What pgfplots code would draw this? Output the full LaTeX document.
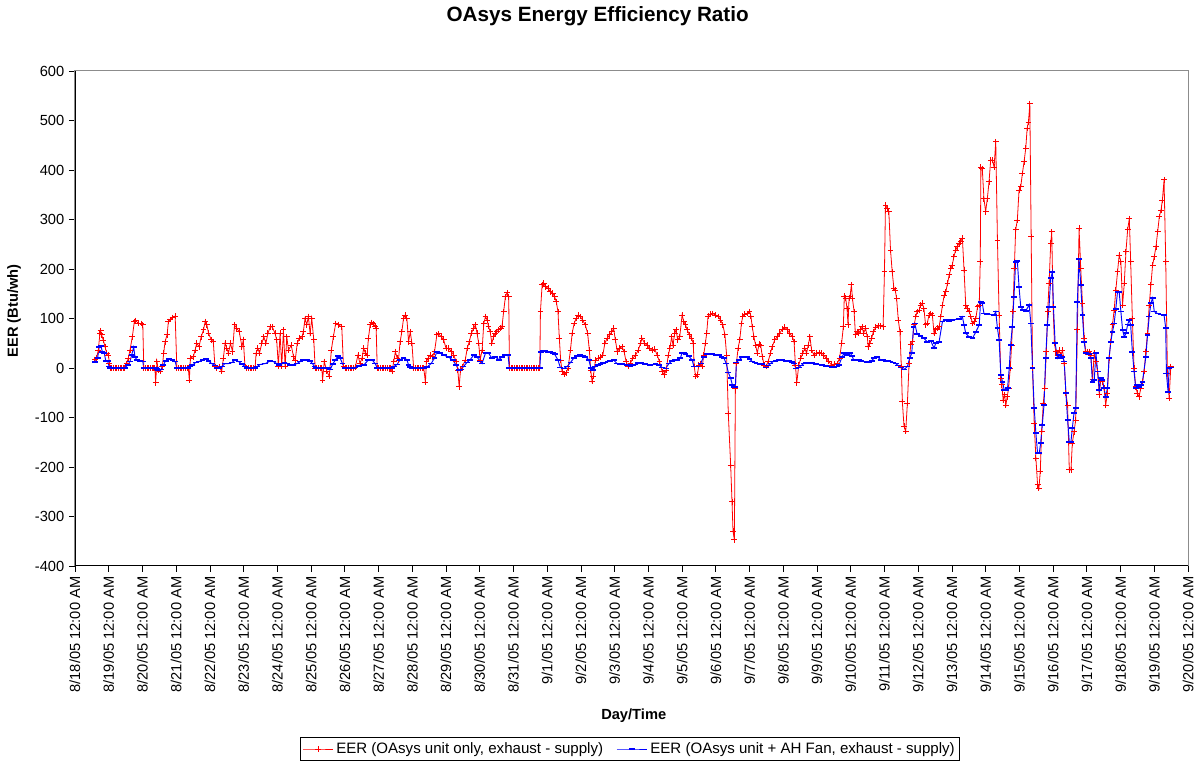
\documentclass[border=0pt]{standalone}
\usepackage{fontspec}
\setmainfont{Liberation Sans}
\usepackage{pgfplots}
\pgfplotsset{compat=1.18}
\usepackage{pgfplotstable}

\pgfplotstableread{
d v
0.59 17
0.64 20
0.69 36
0.74 70
0.76 75
0.79 67
0.84 56
0.89 43
0.94 30
0.99 26
1.02 10
1.04 0
1.09 0
1.14 0
1.19 0
1.24 0
1.29 0
1.34 0
1.39 0
1.44 0
1.48 0
1.53 9
1.58 20
1.63 36
1.70 63
1.76 94
1.80 96
1.88 90
1.96 90
2.01 87
2.04 0
2.09 0
2.14 0
2.19 0
2.24 0
2.29 0
2.34 0
2.37 0
2.39 -30
2.43 13
2.47 -4
2.53 -7
2.59 3
2.63 30
2.67 53
2.73 67
2.77 94
2.82 98
2.89 102
2.97 105
3.02 0
3.07 0
3.12 0
3.17 0
3.22 0
3.27 0
3.32 0
3.36 0
3.39 -25
3.42 20
3.51 23
3.56 36
3.61 50
3.68 43
3.74 63
3.81 77
3.86 94
3.91 87
3.96 70
4.04 57
4.10 53
4.15 3
4.20 0
4.27 3
4.35 -7
4.40 20
4.45 50
4.50 40
4.55 30
4.61 50
4.67 33
4.73 87
4.80 80
4.87 73
4.95 43
4.99 57
5.04 3
5.09 0
5.14 0
5.19 0
5.24 0
5.29 0
5.34 0
5.37 30
5.42 40
5.47 30
5.54 50
5.60 63
5.66 50
5.72 70
5.79 83
5.85 83
5.93 70
5.98 57
6.03 3
6.08 70
6.13 3
6.18 77
6.23 3
6.28 63
6.33 36
6.41 46
6.48 23
6.53 16
6.59 50
6.65 60
6.73 63
6.77 73
6.82 100
6.87 87
6.92 104
6.97 70
7.02 100
7.08 57
7.12 0
7.17 0
7.22 0
7.27 0
7.32 0
7.34 -25
7.39 13
7.47 -7
7.54 -17
7.60 36
7.66 63
7.73 90
7.81 87
7.91 83
7.96 3
8.01 0
8.06 0
8.11 0
8.16 0
8.21 0
8.26 0
8.31 2
8.39 26
8.45 9
8.51 20
8.56 40
8.61 30
8.66 26
8.70 60
8.75 87
8.80 92
8.85 89
8.90 84
8.93 80
8.96 0
9.01 0
9.06 0
9.11 0
9.16 0
9.21 0
9.26 0
9.31 0
9.36 0
9.40 -7
9.45 13
9.50 33
9.55 20
9.59 16
9.64 53
9.69 73
9.74 100
9.79 107
9.84 100
9.89 53
9.94 73
9.99 50
10.04 0
10.09 0
10.14 0
10.19 0
10.24 0
10.29 0
10.34 0
10.39 -29
10.42 13
10.47 20
10.53 26
10.60 23
10.66 33
10.73 67
10.78 69
10.86 63
10.93 57
11.00 40
11.08 40
11.16 33
11.23 26
11.30 13
11.35 -4
11.39 -38
11.43 -4
11.49 3
11.57 16
11.63 40
11.69 53
11.75 70
11.82 80
11.87 87
11.92 70
11.97 50
12.01 16
12.07 36
12.12 90
12.17 104
12.22 97
12.26 84
12.31 73
12.36 50
12.41 63
12.46 70
12.51 73
12.56 77
12.62 80
12.66 84
12.71 114
12.76 144
12.81 152
12.86 144
12.88 0
12.93 0
12.98 0
13.03 0
13.08 0
13.13 0
13.18 0
13.23 0
13.28 0
13.33 0
13.38 0
13.43 0
13.48 0
13.53 0
13.58 0
13.63 0
13.68 0
13.73 0
13.78 0
13.80 114
13.85 168
13.90 171
13.95 164
14.03 161
14.09 154
14.16 151
14.22 144
14.27 134
14.32 114
14.36 60
14.40 16
14.44 -7
14.50 -13
14.56 -10
14.62 0
14.69 36
14.74 70
14.80 90
14.86 100
14.92 107
14.98 104
15.05 97
15.13 87
15.20 70
15.25 36
15.29 -4
15.33 -27
15.37 -17
15.43 16
15.51 20
15.58 22
15.65 26
15.71 50
15.78 60
15.85 67
15.92 73
15.97 80
16.02 57
16.08 33
16.14 40
16.22 43
16.28 33
16.34 13
16.40 3
16.47 10
16.54 20
16.62 26
16.70 36
16.77 50
16.81 60
16.89 50
16.96 46
17.03 40
17.11 36
17.19 38
17.26 26
17.33 13
17.41 -7
17.47 -14
17.53 -4
17.59 26
17.64 40
17.69 63
17.73 46
17.78 70
17.82 77
17.87 57
17.93 63
18.00 107
18.05 94
18.10 87
18.15 77
18.22 67
18.28 60
18.33 50
18.36 3
18.40 -17
18.45 -14
18.50 6
18.55 9
18.60 3
18.64 26
18.69 50
18.73 70
18.77 105
18.84 109
18.91 110
18.99 107
19.07 104
19.14 97
19.21 87
19.27 67
19.32 26
19.37 -92
19.44 -196
19.48 -270
19.51 -330
19.55 -347
19.58 -41
19.61 9
19.66 40
19.71 57
19.76 90
19.80 105
19.86 109
19.93 110
20.00 114
20.04 105
20.08 83
20.13 63
20.18 46
20.23 30
20.28 48
20.33 46
20.38 23
20.43 6
20.49 3
20.55 13
20.62 30
20.67 43
20.75 57
20.82 63
20.89 70
20.97 78
21.05 82
21.12 77
21.19 70
21.27 63
21.32 53
21.36 6
21.40 -30
21.46 6
21.52 20
21.58 30
21.64 40
21.69 30
21.74 46
21.79 63
21.84 36
21.91 26
21.98 30
22.06 31
22.14 30
22.20 26
22.27 20
22.35 13
22.43 6
22.51 8
22.60 9
22.67 20
22.73 50
22.78 83
22.81 145
22.85 141
22.89 120
22.92 87
22.95 141
22.98 145
23.02 168
23.05 141
23.10 114
23.14 67
23.19 73
23.24 70
23.29 77
23.34 83
23.38 70
23.44 80
23.49 63
23.52 43
23.57 50
23.62 60
23.67 73
23.74 82
23.82 85
23.89 85
23.96 83
24.00 194
24.03 329
24.08 323
24.13 316
24.18 238
24.23 194
24.28 161
24.32 157
24.36 141
24.41 97
24.46 73
24.50 3
24.53 -68
24.58 -118
24.63 -128
24.68 -71
24.73 9
24.78 48
24.83 53
24.88 87
24.93 104
24.97 114
25.03 117
25.07 127
25.12 131
25.17 120
25.22 87
25.27 90
25.32 107
25.37 110
25.42 107
25.47 70
25.52 77
25.57 80
25.62 83
25.67 104
25.72 127
25.77 147
25.82 154
25.87 171
25.92 188
25.97 201
26.01 208
26.06 225
26.11 238
26.16 245
26.21 252
26.26 255
26.31 262
26.36 198
26.41 127
26.46 120
26.51 114
26.56 104
26.61 90
26.66 93
26.71 100
26.76 124
26.81 127
26.84 215
26.86 406
26.90 403
26.95 342
27.00 316
27.05 342
27.10 376
27.15 420
27.20 420
27.25 406
27.30 457
27.35 258
27.40 107
27.45 -21
27.48 -34
27.52 -65
27.56 -54
27.60 -75
27.64 -58
27.68 -41
27.73 0
27.77 46
27.81 114
27.85 201
27.89 279
27.94 299
27.99 359
28.04 366
28.09 393
28.14 417
28.19 444
28.23 484
28.27 497
28.31 534
28.35 265
28.39 0
28.44 -112
28.49 -182
28.54 -236
28.58 -243
28.62 -209
28.66 -129
28.71 -71
28.75 -41
28.80 33
28.84 114
28.88 171
28.93 252
28.96 275
29.00 124
29.04 50
29.08 33
29.13 26
29.18 36
29.23 26
29.28 36
29.33 9
29.38 -51
29.43 -75
29.48 -206
29.53 -206
29.57 -152
29.62 -129
29.67 -105
29.72 77
29.77 282
29.82 201
29.87 131
29.92 60
29.97 33
30.02 33
30.07 33
30.12 26
30.17 -24
30.22 30
30.27 13
30.32 -7
30.37 -54
30.41 -24
30.46 -28
30.51 -41
30.56 -75
30.61 -51
30.66 20
30.71 53
30.76 87
30.81 117
30.86 157
30.91 194
30.96 228
31.01 215
31.06 127
31.11 171
31.16 235
31.21 279
31.26 302
31.30 215
31.35 100
31.40 0
31.45 -38
31.50 -51
31.55 -58
31.60 -41
31.65 -28
31.70 -7
31.75 33
31.80 70
31.85 127
31.90 168
31.95 208
32.00 225
32.05 245
32.10 275
32.15 306
32.20 319
32.24 339
32.29 380
32.34 215
32.39 -11
32.44 -61
32.49 3
}\redtab

\pgfplotstableread{
d v
0.59 12
0.67 20
0.72 43
0.77 44
0.81 33
0.87 30
0.91 15
0.97 14
1.01 3
1.04 0
1.09 0
1.14 0
1.19 0
1.24 0
1.29 0
1.34 0
1.39 0
1.44 0
1.48 0
1.56 6
1.63 13
1.68 26
1.74 42
1.78 22
1.83 17
1.93 15
2.01 13
2.04 0
2.09 0
2.14 0
2.19 0
2.24 0
2.29 0
2.34 0
2.39 0
2.43 -2
2.47 -4
2.55 -3
2.62 6
2.69 15
2.79 18
2.89 17
2.97 13
3.02 0
3.07 0
3.12 0
3.17 0
3.22 0
3.27 0
3.32 0
3.36 0
3.42 3
3.48 6
3.58 11
3.68 13
3.78 16
3.88 18
3.96 14
4.05 9
4.15 5
4.20 0
4.27 0
4.35 3
4.45 9
4.55 9
4.65 11
4.75 16
4.85 13
4.95 8
5.04 3
5.09 0
5.14 0
5.19 0
5.24 0
5.29 0
5.34 0
5.40 3
5.49 7
5.64 9
5.79 14
5.88 13
5.98 9
6.05 6
6.13 9
6.21 11
6.29 9
6.38 6
6.48 6
6.58 9
6.68 13
6.77 17
6.87 16
6.97 14
7.04 9
7.10 3
7.14 0
7.19 0
7.24 0
7.29 0
7.34 0
7.39 0
7.44 0
7.50 0
7.57 -3
7.64 8
7.72 16
7.79 24
7.86 20
7.93 9
7.99 0
8.04 0
8.09 0
8.14 0
8.19 0
8.24 0
8.31 1
8.41 4
8.56 6
8.70 16
8.80 17
8.90 9
8.96 0
9.01 0
9.06 0
9.11 0
9.16 0
9.21 0
9.26 0
9.31 0
9.36 0
9.40 0
9.45 3
9.55 7
9.64 17
9.74 20
9.84 17
9.89 6
9.94 2
9.99 0
10.04 0
10.09 0
10.14 0
10.19 0
10.24 0
10.29 0
10.34 0
10.44 2
10.56 9
10.66 20
10.73 33
10.83 31
10.93 26
11.08 22
11.20 16
11.30 6
11.38 -4
11.45 -3
11.52 3
11.62 11
11.72 17
11.82 26
11.92 22
12.02 13
12.07 9
12.17 30
12.26 30
12.36 20
12.46 23
12.56 17
12.66 22
12.76 26
12.84 26
12.88 0
12.93 0
12.98 0
13.03 0
13.08 0
13.13 0
13.18 0
13.23 0
13.28 0
13.33 0
13.38 0
13.43 0
13.48 0
13.53 0
13.58 0
13.63 0
13.68 0
13.73 0
13.78 0
13.81 33
13.88 34
13.95 34
14.02 33
14.09 33
14.16 30
14.22 28
14.32 16
14.39 1
14.49 -1
14.59 3
14.69 11
14.79 20
14.89 25
14.98 26
15.06 25
15.13 23
15.23 17
15.30 0
15.35 -4
15.43 3
15.50 6
15.58 8
15.66 10
15.73 11
15.80 13
15.87 15
15.97 16
16.07 9
16.15 8
16.22 8
16.30 7
16.37 6
16.47 4
16.55 6
16.62 7
16.70 10
16.77 11
16.84 9
16.91 8
16.98 7
17.06 6
17.13 7
17.21 8
17.31 6
17.41 1
17.51 -1
17.61 9
17.71 15
17.78 16
17.85 17
17.95 20
18.00 31
18.05 30
18.10 28
18.20 24
18.30 16
18.35 3
18.45 3
18.55 9
18.64 23
18.74 28
18.82 28
18.89 28
18.99 27
19.09 26
19.17 23
19.24 20
19.31 9
19.37 -9
19.44 -21
19.49 -34
19.54 -39
19.58 -38
19.61 11
19.68 16
19.78 22
19.85 22
19.93 22
20.00 18
20.08 13
20.15 11
20.23 9
20.30 8
20.38 8
20.49 1
20.55 5
20.62 9
20.70 13
20.77 15
20.87 16
20.97 16
21.07 15
21.17 15
21.25 12
21.31 9
21.38 -1
21.46 1
21.53 5
21.61 9
21.68 10
21.76 11
21.86 10
21.96 8
22.06 7
22.16 6
22.26 4
22.35 3
22.43 2
22.50 1
22.58 3
22.65 6
22.75 23
22.80 30
22.85 28
22.90 26
22.99 30
23.04 24
23.09 16
23.17 16
23.24 16
23.31 14
23.39 13
23.47 12
23.54 11
23.62 15
23.69 20
23.79 23
23.89 16
23.96 16
24.03 15
24.10 14
24.18 13
24.26 11
24.33 9
24.41 5
24.48 1
24.58 -3
24.68 3
24.75 20
24.81 30
24.86 83
24.90 90
24.97 68
25.07 65
25.17 60
25.27 53
25.37 55
25.47 40
25.52 50
25.62 53
25.72 94
25.82 97
25.92 95
26.01 97
26.11 98
26.21 99
26.31 104
26.36 87
26.41 70
26.51 63
26.61 60
26.71 73
26.81 87
26.85 134
26.90 131
26.95 110
27.05 109
27.15 108
27.25 107
27.30 114
27.35 80
27.40 57
27.45 -14
27.50 -28
27.55 -44
27.60 -44
27.65 -41
27.70 0
27.74 46
27.79 83
27.84 144
27.89 215
27.94 216
27.99 164
28.04 124
28.11 117
28.19 115
28.29 128
28.34 90
28.39 0
28.44 -81
28.49 -132
28.54 -172
28.59 -172
28.63 -152
28.68 -115
28.73 -75
28.78 20
28.83 87
28.88 124
28.93 181
28.98 194
29.01 124
29.06 50
29.13 20
29.18 26
29.23 20
29.28 23
29.33 13
29.38 -51
29.43 -105
29.48 -149
29.53 -149
29.57 -122
29.62 -91
29.67 -81
29.72 134
29.77 221
29.82 168
29.87 107
29.92 53
29.97 30
30.07 28
30.12 20
30.17 -28
30.22 -24
30.27 30
30.32 -7
30.37 -44
30.41 -21
30.46 -24
30.51 -41
30.56 -58
30.61 -41
30.66 20
30.71 53
30.76 73
30.81 90
30.86 120
30.91 154
30.96 154
31.01 114
31.06 77
31.11 63
31.16 70
31.21 88
31.26 97
31.30 87
31.35 33
31.40 -7
31.45 -41
31.50 -34
31.55 -38
31.60 -34
31.65 -28
31.75 23
31.80 67
31.85 104
31.90 131
31.95 141
32.00 114
32.10 110
32.20 108
32.29 107
32.34 80
32.36 -11
32.41 -48
32.44 0
32.49 1
}\bluetab

\begin{document}
\begin{tikzpicture}
\begin{axis}[
  name=ax, at={(0,0)}, anchor=south west,
  scale only axis, width=834.75pt, height=371.25pt,
  xmin=0, xmax=33, ymin=-400, ymax=600,
  xtick={0,...,33},
  xticklabels={8/18/05 12:00 AM,8/19/05 12:00 AM,8/20/05 12:00 AM,8/21/05 12:00 AM,8/22/05 12:00 AM,8/23/05 12:00 AM,8/24/05 12:00 AM,8/25/05 12:00 AM,8/26/05 12:00 AM,8/27/05 12:00 AM,8/28/05 12:00 AM,8/29/05 12:00 AM,8/30/05 12:00 AM,8/31/05 12:00 AM,9/1/05 12:00 AM,9/2/05 12:00 AM,9/3/05 12:00 AM,9/4/05 12:00 AM,9/5/05 12:00 AM,9/6/05 12:00 AM,9/7/05 12:00 AM,9/8/05 12:00 AM,9/9/05 12:00 AM,9/10/05 12:00 AM,9/11/05 12:00 AM,9/12/05 12:00 AM,9/13/05 12:00 AM,9/14/05 12:00 AM,9/15/05 12:00 AM,9/16/05 12:00 AM,9/17/05 12:00 AM,9/18/05 12:00 AM,9/19/05 12:00 AM,9/20/05 12:00 AM},
  ytick={-400,-300,...,600},
  /pgf/number format/assume math mode=true,
  xticklabel style={rotate=90, anchor=east, font=\fontsize{11}{13}\selectfont},
  yticklabel style={font=\fontsize{11}{13}\selectfont},
  tick align=outside, xtick pos=bottom, ytick pos=left,
  major tick length=4.5pt,
  tick style={black, line width=0.6pt},
  axis line style={draw=black!45, line width=0.75pt},
  xlabel={Day/Time},
  ylabel={EER (Btu/wh)},
  xlabel style={at={(axis description cs:0.502,-0.303)}, anchor=center, font=\bfseries\fontsize{11}{13}\selectfont},
  ylabel style={at={(axis description cs:-0.0548,0.515)}, anchor=center, font=\bfseries\fontsize{11}{13}\selectfont},
  legend style={at={(axis description cs:0.4986,-0.3697)}, anchor=center, draw=black, line width=0.6pt,
    font=\fontsize{11.3}{13}\selectfont, legend columns=2, inner sep=1.5pt,
    /tikz/every even column/.append style={column sep=8pt}},
  legend image code/.code={\draw[mark repeat=2,mark phase=2] plot coordinates {(0cm,0cm) (0.4cm,0cm) (0.8cm,0cm)};},
]
\addplot[color=red, line width=0.6pt, mark=+, mark size=2.2pt, mark options={line width=0.7pt}] table[x=d,y=v] {\redtab};
\addlegendentry{EER (OAsys unit only, exhaust - supply)}
\addplot[color=blue, line width=0.7pt, mark=-, mark size=2.2pt, mark options={line width=1.4pt}] table[x=d,y=v] {\bluetab};
\addlegendentry{EER (OAsys unit + AH Fan, exhaust - supply)}
\end{axis}
\draw[black, line width=0.75pt] (0,371.25pt) -- (0,0) -- (834.75pt,0);
\node[font=\bfseries\fontsize{15.5}{18}\selectfont] at (392pt,412.5pt) {OAsys Energy Efficiency Ratio};
\pgfresetboundingbox
\path[use as bounding box] (-56.25pt,-147pt) rectangle (840.75pt,424.5pt);
\end{tikzpicture}
\end{document}
